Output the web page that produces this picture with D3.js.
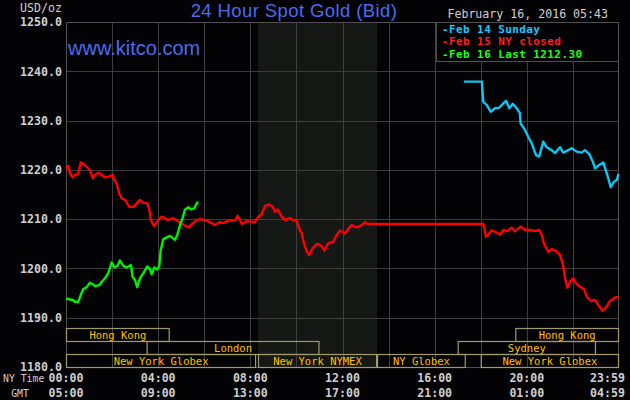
<!DOCTYPE html>
<html><head><meta charset="utf-8">
<script src="https://cdn.jsdelivr.net/npm/d3@7"></script>
<style>
html,body{margin:0;padding:0;background:#030305;}
svg{display:block;}
</style></head>
<body>
<svg id="chart" width="630" height="400"></svg>
<script>
// ---------- DATA ----------
const chartTitle = "24 Hour Spot Gold (Bid)";
const siteLabel = "www.kitco.com";
const dateLabel = "February 16, 2016 05:43";
const unitLabel = "USD/oz";
const yTicks = [1180, 1190, 1200, 1210, 1220, 1230, 1240, 1250];
const xTickHours = [0, 4, 8, 12, 16, 20, 24];
const nyTimeLabels = ["00:00", "04:00", "08:00", "12:00", "16:00", "20:00", "23:59"];
const gmtLabels = ["05:00", "09:00", "13:00", "17:00", "21:00", "01:00", "04:59"];
const gridHours = [2, 4, 6, 8, 10, 12, 14, 16, 18, 20, 22];
const nymexShade = [8.333, 13.5];

const legendNames = ["Feb 14 Sunday", "Feb 15 NY closed", "Feb 16 Last 1212.30"];

// Feb 15 (red)
const feb15Times = [0,0.10,0.17,0.29,0.39,0.53,0.64,0.75,0.90,1.04,1.16,1.26,1.40,1.55,1.69,1.84,2.03,2.10,2.20,2.31,2.42,2.56,2.75,2.92,3.07,3.21,3.35,3.53,3.62,3.68,3.82,3.96,4.15,4.30,4.44,4.66,4.87,5.12,5.31,5.46,5.67,5.82,6.11,6.47,6.68,6.83,7.04,7.33,7.45,7.63,7.84,8.20,8.35,8.49,8.64,8.81,8.97,9.07,9.21,9.36,9.50,9.72,9.86,10.01,10.12,10.23,10.33,10.45,10.55,10.71,10.91,11.10,11.21,11.38,11.60,11.75,11.89,12.11,12.33,12.40,12.62,12.83,12.98,13.08,18.11,18.23,18.33,18.47,18.69,18.84,18.98,19.15,19.34,19.49,19.73,19.92,20.14,20.35,20.54,20.65,20.75,20.93,21.08,21.27,21.44,21.56,21.66,21.76,21.87,22.02,22.13,22.31,22.48,22.60,22.77,22.96,23.10,23.29,23.46,23.61,23.83,23.98];
const feb15Values = [1220.3,1220.8,1219.3,1218.5,1219.0,1219.2,1221.5,1221.2,1220.6,1220.0,1218.3,1219.0,1219.4,1219.0,1218.5,1218.6,1219.0,1217.9,1217.3,1215.2,1214.2,1213.9,1212.5,1212.5,1213.2,1213.9,1213.3,1213.2,1211.9,1209.8,1208.6,1209.5,1210.5,1210.2,1209.8,1210.2,1209.5,1208.8,1208.3,1209.0,1209.8,1210.0,1209.7,1208.8,1209.4,1209.2,1209.7,1209.7,1210.7,1209.0,1209.6,1209.4,1210.5,1211.0,1212.7,1213.0,1212.5,1211.5,1211.9,1210.5,1209.8,1210.2,1209.8,1209.8,1208.1,1207.1,1205.1,1203.4,1202.7,1204.1,1205.0,1204.5,1203.6,1205.1,1205.4,1206.8,1207.7,1207.1,1208.5,1208.8,1208.3,1208.8,1209.4,1209.0,1209.0,1206.4,1206.9,1207.7,1207.3,1206.9,1207.8,1207.5,1208.3,1207.5,1208.5,1207.8,1207.8,1207.6,1207.8,1206.8,1204.9,1203.4,1203.9,1203.5,1202.7,1201.0,1198.0,1196.1,1197.3,1198.0,1197.0,1196.3,1195.8,1194.3,1193.4,1193.6,1192.6,1191.4,1192.2,1193.4,1194.1,1194.2];

// Feb 14 (blue)
const feb14Times = [17.27,18.05,18.07,18.11,18.26,18.43,18.62,18.80,18.98,19.10,19.24,19.39,19.56,19.70,19.73,19.92,20.06,20.21,20.40,20.54,20.71,20.86,21.08,21.22,21.44,21.58,21.80,21.95,22.16,22.38,22.52,22.71,22.86,22.96,23.14,23.32,23.49,23.64,23.78,23.90,23.98];
const feb14Values = [1237.9,1237.9,1236.2,1233.8,1233.2,1231.8,1232.5,1232.6,1233.5,1234.0,1232.5,1233.4,1232.5,1231.5,1229.4,1228.1,1226.7,1225.4,1223.0,1222.7,1225.7,1224.6,1224.0,1223.4,1224.6,1223.5,1224.0,1224.4,1223.7,1223.5,1224.0,1223.2,1221.7,1220.3,1221.0,1221.5,1219.0,1216.5,1217.6,1217.9,1219.2];

// Feb 16 (green)
const feb16Times = [0,0.17,0.32,0.39,0.53,0.64,0.75,0.90,1.04,1.16,1.26,1.45,1.55,1.69,1.84,1.98,2.10,2.23,2.34,2.49,2.63,2.82,2.89,2.99,3.09,3.21,3.35,3.53,3.65,3.72,3.83,3.96,4.05,4.11,4.22,4.37,4.51,4.73,4.83,4.95,5.06,5.16,5.31,5.42,5.57,5.67,5.74];
const feb16Values = [1193.9,1193.7,1193.6,1193.2,1193.2,1194.6,1195.8,1196.2,1197.1,1196.8,1196.4,1196.6,1197.3,1198.0,1199.1,1201.2,1200.2,1200.5,1201.6,1200.5,1200.2,1200.7,1198.3,1197.7,1196.2,1198.0,1199.0,1200.4,1199.8,1198.8,1200.2,1199.8,1200.5,1203.7,1205.9,1206.3,1206.6,1205.8,1206.8,1208.8,1210.2,1211.9,1212.4,1212.0,1212.2,1213.2,1213.5];

// Market sessions: name, row, start hour, end hour
const sessionNames = ["Hong Kong","Hong Kong","London","Sydney","New York Globex","New York NYMEX","NY Globex","New York Globex"];
const sessionRows  = [0,0,1,1,2,2,2,2];
const sessionStart = [0,19.5,3.5,17,0,8.333,13.5,18];
const sessionEnd   = [4.5,24,11,23,8.25,13.5,17.35,24];

// ---------- DRAW ----------
const svg = d3.select("#chart");
const L = 66, R = 619, T = 22, B = 367;
const x = d3.scaleLinear().domain([0, 24]).range([L, R]);
const y = d3.scaleLinear().domain([1180, 1250]).range([B, T]);
const mono = "'DejaVu Sans Mono', monospace";
const gridColor = "#3e3e3e";

svg.append("rect").attr("width",630).attr("height",400).attr("fill","#030305");

// NYMEX shading
svg.append("rect")
  .attr("x", x(nymexShade[0])).attr("y", T)
  .attr("width", x(nymexShade[1]) - x(nymexShade[0])).attr("height", B - T)
  .attr("fill", "#151815");

// horizontal grid
svg.append("g").attr("transform",`translate(${L},0)`)
  .call(d3.axisLeft(y).tickValues(yTicks).tickSize(-(R-L)).tickFormat(""))
  .call(g => { g.select(".domain").remove(); g.selectAll("line").attr("stroke",gridColor).attr("shape-rendering","crispEdges"); });

// vertical grid
svg.append("g").attr("transform",`translate(0,${B})`)
  .call(d3.axisBottom(x).tickValues(gridHours).tickSize(-(B-T)).tickFormat(""))
  .call(g => { g.select(".domain").remove(); g.selectAll("line").attr("stroke",gridColor).attr("shape-rendering","crispEdges"); });

// border
svg.append("rect").attr("x",L+0.5).attr("y",T+0.5).attr("width",R-L-1).attr("height",B-T)
  .attr("fill","none").attr("stroke","#505050").attr("shape-rendering","crispEdges");

// y labels
svg.append("g").attr("transform",`translate(62,0)`)
  .call(d3.axisLeft(y).tickValues(yTicks).tickSize(0).tickPadding(0).tickFormat(d3.format(".1f")))
  .call(g => { g.select(".domain").remove();
    g.selectAll("text").attr("fill","#cfcfcf").attr("font-family",mono).attr("font-weight","bold").attr("font-size","11.6px"); });

svg.append("text").attr("x",62).attr("y",12).attr("text-anchor","end")
  .attr("fill","#cfcfcf").attr("font-family",mono).attr("font-size","11.6px").text(unitLabel);

// x labels
const xl = svg.append("g");
xTickHours.forEach((h,i) => {
  const last = i === xTickHours.length - 1;
  const px = last ? x(h) + 6 : x(h);
  const anchor = last ? "end" : "middle";
  xl.append("text").attr("x",px).attr("y",382).attr("text-anchor",anchor)
    .attr("fill","#cfcfcf").attr("font-family",mono).attr("font-weight","bold").attr("font-size","11.6px").text(nyTimeLabels[i]);
  xl.append("text").attr("x",px).attr("y",397).attr("text-anchor",anchor)
    .attr("fill","#cfcfcf").attr("font-family",mono).attr("font-weight","bold").attr("font-size","11.6px").text(gmtLabels[i]);
});
svg.append("text").attr("x",3).attr("y",382).attr("fill","#cfcfcf").attr("font-family",mono).attr("font-size","9.8px").text("NY Time");
svg.append("text").attr("x",20).attr("y",397).attr("text-anchor","middle").attr("fill","#cfcfcf").attr("font-family",mono).attr("font-size","9.8px").text("GMT");

// sessions
const rowTop = [328, 341, 354], rowH = 13;
const sess = svg.append("g");
sessionNames.forEach((n,i) => {
  const x0 = x(sessionStart[i]), x1 = x(sessionEnd[i]);
  const r = sessionRows[i];
  sess.append("rect").attr("x",x0+0.5).attr("y",rowTop[r]+0.5).attr("width",x1-x0-1).attr("height",rowH)
    .attr("fill","none").attr("stroke","#a09a6c").attr("stroke-width",1.2);
  sess.append("text").attr("x",(x0+x1)/2).attr("y",rowTop[r]+rowH/2+4.5).attr("text-anchor","middle")
    .attr("fill","#ffc000").attr("font-family",mono).attr("font-size","10.5px").text(n);
});

// lines
const line = d3.line().x(d=>x(d[0])).y(d=>y(d[1]));
const series = [
  {t:feb15Times, v:feb15Values, c:"#ff0000"},
  {t:feb16Times, v:feb16Values, c:"#00f000"},
  {t:feb14Times, v:feb14Values, c:"#10c4f4"}
];
series.forEach(s => {
  svg.append("path").datum(s.t.map((t,i)=>[t,s.v[i]]))
    .attr("d",line).attr("fill","none").attr("stroke",s.c).attr("stroke-width",2.4).attr("stroke-linejoin","round");
});

// legend
svg.append("rect").attr("x",436.5).attr("y",T+0.5).attr("width",R-436.5-0.5).attr("height",39)
  .attr("fill","#030305").attr("stroke","#505050").attr("shape-rendering","crispEdges");
const legendColors = ["#19c8ff","#ff1e1e","#19ff19"];
legendNames.forEach((n,i) => {
  svg.append("text").attr("x",442).attr("y",33 + i*12.4)
    .attr("fill",legendColors[i]).attr("font-family",mono).attr("font-weight","bold").attr("font-size","11px")
    .attr("letter-spacing","0.4px")
    .text("-" + n);
});

// titles
svg.append("text").attr("x",294).attr("y",17).attr("text-anchor","middle")
  .attr("fill","#4a6cf0").attr("font-family","'Liberation Sans', Arial, sans-serif").attr("font-size","18.5px")
  .attr("letter-spacing","0.4px").text(chartTitle);
svg.append("text").attr("x",68).attr("y",55)
  .attr("fill","#4a6cf0").attr("font-family","'Liberation Sans', Arial, sans-serif").attr("font-size","20px").text(siteLabel);
svg.append("text").attr("x",608).attr("y",18).attr("text-anchor","end")
  .attr("fill","#cfcfcf").attr("font-family",mono).attr("font-size","11.6px").text(dateLabel);
</script>
</body></html>
